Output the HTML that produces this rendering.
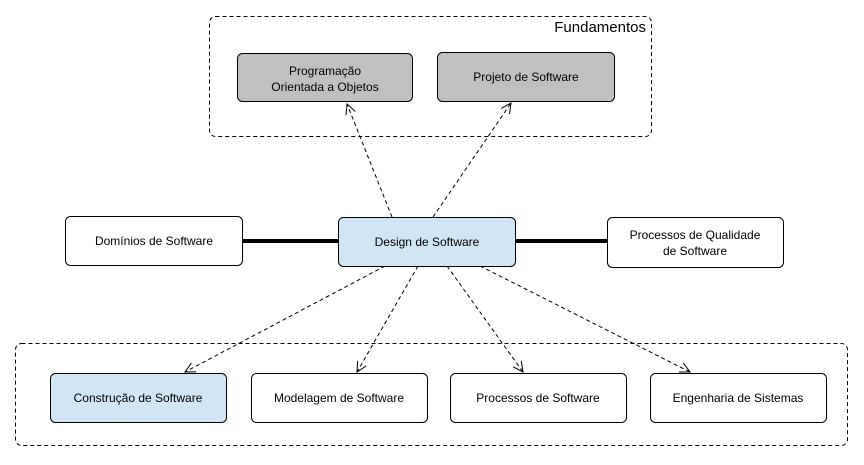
<!DOCTYPE html>
<html><head><meta charset="utf-8"><style>
body{margin:0;width:864px;height:460px;background:#fff;overflow:hidden}
</style></head><body>
<svg width="864" height="460" xmlns="http://www.w3.org/2000/svg" font-family="Liberation Sans, sans-serif" font-size="12">
<defs>
<marker id="a" markerWidth="12" markerHeight="12" refX="10" refY="6" orient="auto" markerUnits="userSpaceOnUse">
<path d="M0,1 L10,6 L0,11" fill="none" stroke="#000" stroke-width="1"/>
</marker>
</defs>
<rect x="209.5" y="16.5" width="442" height="120" rx="6" fill="none" stroke="#000" stroke-dasharray="4,3"/>
<text x="646" y="32" text-anchor="end" font-size="15">Fundamentos</text>
<rect x="15.5" y="343.5" width="832" height="102" rx="6" fill="none" stroke="#000" stroke-dasharray="4,3"/>

<line x1="242" y1="241" x2="338" y2="241" stroke="#000" stroke-width="4"/>
<line x1="515" y1="241" x2="607" y2="241" stroke="#000" stroke-width="4"/>

<g fill="none" stroke="#000" stroke-dasharray="4,3" marker-end="url(#a)">
<line x1="392" y1="217" x2="347" y2="104"/>
<line x1="433" y1="217" x2="511" y2="103"/>
<line x1="385" y1="266" x2="185" y2="372"/>
<line x1="418" y1="266" x2="357" y2="372"/>
<line x1="447" y1="266" x2="523" y2="372"/>
<line x1="480" y1="266" x2="690" y2="372"/>
</g>

<g stroke="#000">
<rect x="237.5" y="53.5" width="175" height="48" rx="5" fill="#c0c0c0"/>
<rect x="437.5" y="52.5" width="177" height="49" rx="5" fill="#c0c0c0"/>
<rect x="65.5" y="216.5" width="177" height="49" rx="5" fill="#fff"/>
<rect x="338.5" y="217.5" width="177" height="49" rx="5" fill="#d0e6f5"/>
<rect x="607.5" y="217.5" width="176" height="50" rx="5" fill="#fff"/>
<rect x="50.5" y="373.5" width="176" height="49" rx="5" fill="#d0e6f5"/>
<rect x="251.5" y="373.5" width="176" height="49" rx="5" fill="#fff"/>
<rect x="450.5" y="373.5" width="176" height="49" rx="5" fill="#fff"/>
<rect x="650.5" y="373.5" width="176" height="49" rx="5" fill="#fff"/>
</g>
<g text-anchor="middle">
<text x="325" y="75">Programação</text>
<text x="325" y="91">Orientada a Objetos</text>
<text x="526" y="81">Projeto de Software</text>
<text x="154" y="245">Domínios de Software</text>
<text x="427" y="246">Design de Software</text>
<text x="695" y="239">Processos de Qualidade</text>
<text x="695" y="255">de Software</text>
<text x="138" y="402">Construção de Software</text>
<text x="339" y="402">Modelagem de Software</text>
<text x="538" y="402">Processos de Software</text>
<text x="738" y="402">Engenharia de Sistemas</text>
</g>
</svg>
</body></html>
